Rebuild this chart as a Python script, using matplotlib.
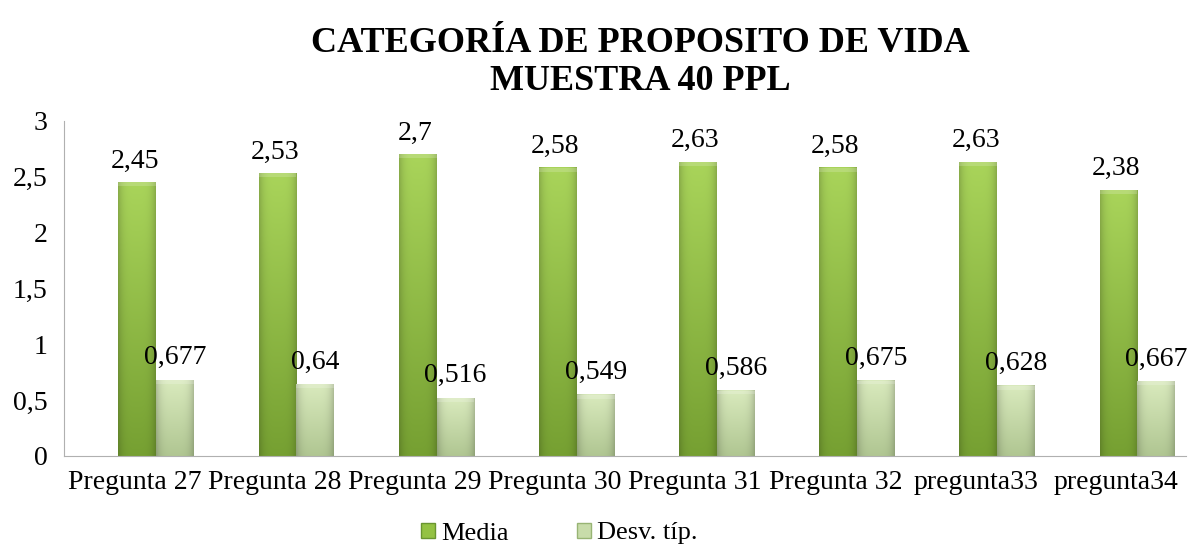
import matplotlib.pyplot as plt
import numpy as np
from matplotlib.colors import to_rgb
from matplotlib.patches import Patch

categories = ["Pregunta 27", "Pregunta 28", "Pregunta 29", "Pregunta 30",
              "Pregunta 31", "Pregunta 32", "pregunta33", "pregunta34"]
media = [2.45, 2.53, 2.7, 2.58, 2.63, 2.58, 2.63, 2.38]
desv = [0.677, 0.64, 0.516, 0.549, 0.586, 0.675, 0.628, 0.667]
media_labels = ["2,45", "2,53", "2,7", "2,58", "2,63", "2,58", "2,63", "2,38"]
desv_labels = ["0,677", "0,64", "0,516", "0,549", "0,586", "0,675", "0,628", "0,667"]
yticks = [0, 0.5, 1, 1.5, 2, 2.5, 3]
ytick_labels = ["0", "0,5", "1", "1,5", "2", "2,5", "3"]

plt.rcParams["font.family"] = ["Liberation Serif", "DejaVu Serif"]

green_top, green_bot = to_rgb("#a9d45a"), to_rgb("#76a032")
light_top, light_bot = to_rgb("#d9eabd"), to_rgb("#b0c692")

fig = plt.figure(figsize=(11.93, 5.5), dpi=100)
ax = fig.add_axes([0.054, 0.171, 0.94, 0.609])

x = np.arange(len(categories))
w = 0.27


def bar_image(top, bot):
    # vertical shade top->bottom, darker at the left/right edges
    v = np.linspace(0, 1, 80)[:, None, None]
    col = np.array(top)[None, None, :] * (1 - v) + np.array(bot)[None, None, :] * v
    u = np.linspace(-1, 1, 40)
    edge = 1 - 0.18 * np.abs(u) ** 4
    return np.clip(col * edge[None, :, None], 0, 1)


def gradient_bar(xc, h, top, bot):
    ax.imshow(bar_image(top, bot), aspect="auto", origin="upper",
              extent=(xc - w / 2, xc + w / 2, 0, h), zorder=2, interpolation="bilinear")
    ax.fill_between([xc - w / 2, xc + w / 2], h - 0.035, h, color="white",
                    alpha=0.18, zorder=3, linewidth=0)


for i in x:
    gradient_bar(i + 0.02, media[i], green_top, green_bot)
    gradient_bar(i + 0.29, desv[i], light_top, light_bot)
    ax.text(i + 0.0, media[i] + 0.08, media_labels[i], ha="center", va="bottom", fontsize=20)
    ax.text(i + 0.29, desv[i] + 0.09, desv_labels[i], ha="center", va="bottom", fontsize=20)

ax.set_xlim(-0.5, len(categories) - 0.5)
ax.set_ylim(0, 3)
ax.set_yticks(yticks)
ax.set_yticklabels(ytick_labels, fontsize=20)
ax.set_xticks(x)
ax.set_xticklabels(categories, fontsize=20)
ax.tick_params(axis="x", length=0, pad=10)
ax.tick_params(axis="y", length=0, pad=12)
for s in ["top", "right"]:
    ax.spines[s].set_visible(False)
for s in ["left", "bottom"]:
    ax.spines[s].set_color("#b0b0b0")

fig.text(0.537, 0.921, "CATEGORÍA DE PROPOSITO DE VIDA", ha="center", va="center",
         fontsize=26, fontweight="bold")
fig.text(0.537, 0.852, "MUESTRA 40 PPL", ha="center", va="center",
         fontsize=26, fontweight="bold")

handles = [Patch(facecolor="#94c243", edgecolor="#6a9530"),
           Patch(facecolor="#c8dcaa", edgecolor="#98b474")]
fig.legend(handles, ["Media", "Desv. típ."], loc="center", bbox_to_anchor=(0.469, 0.03),
           ncol=2, frameon=False, fontsize=19, handlelength=0.5, handleheight=0.5,
           handletextpad=0.25, columnspacing=2.6, borderpad=0)

fig.savefig("out.png", dpi=100)
